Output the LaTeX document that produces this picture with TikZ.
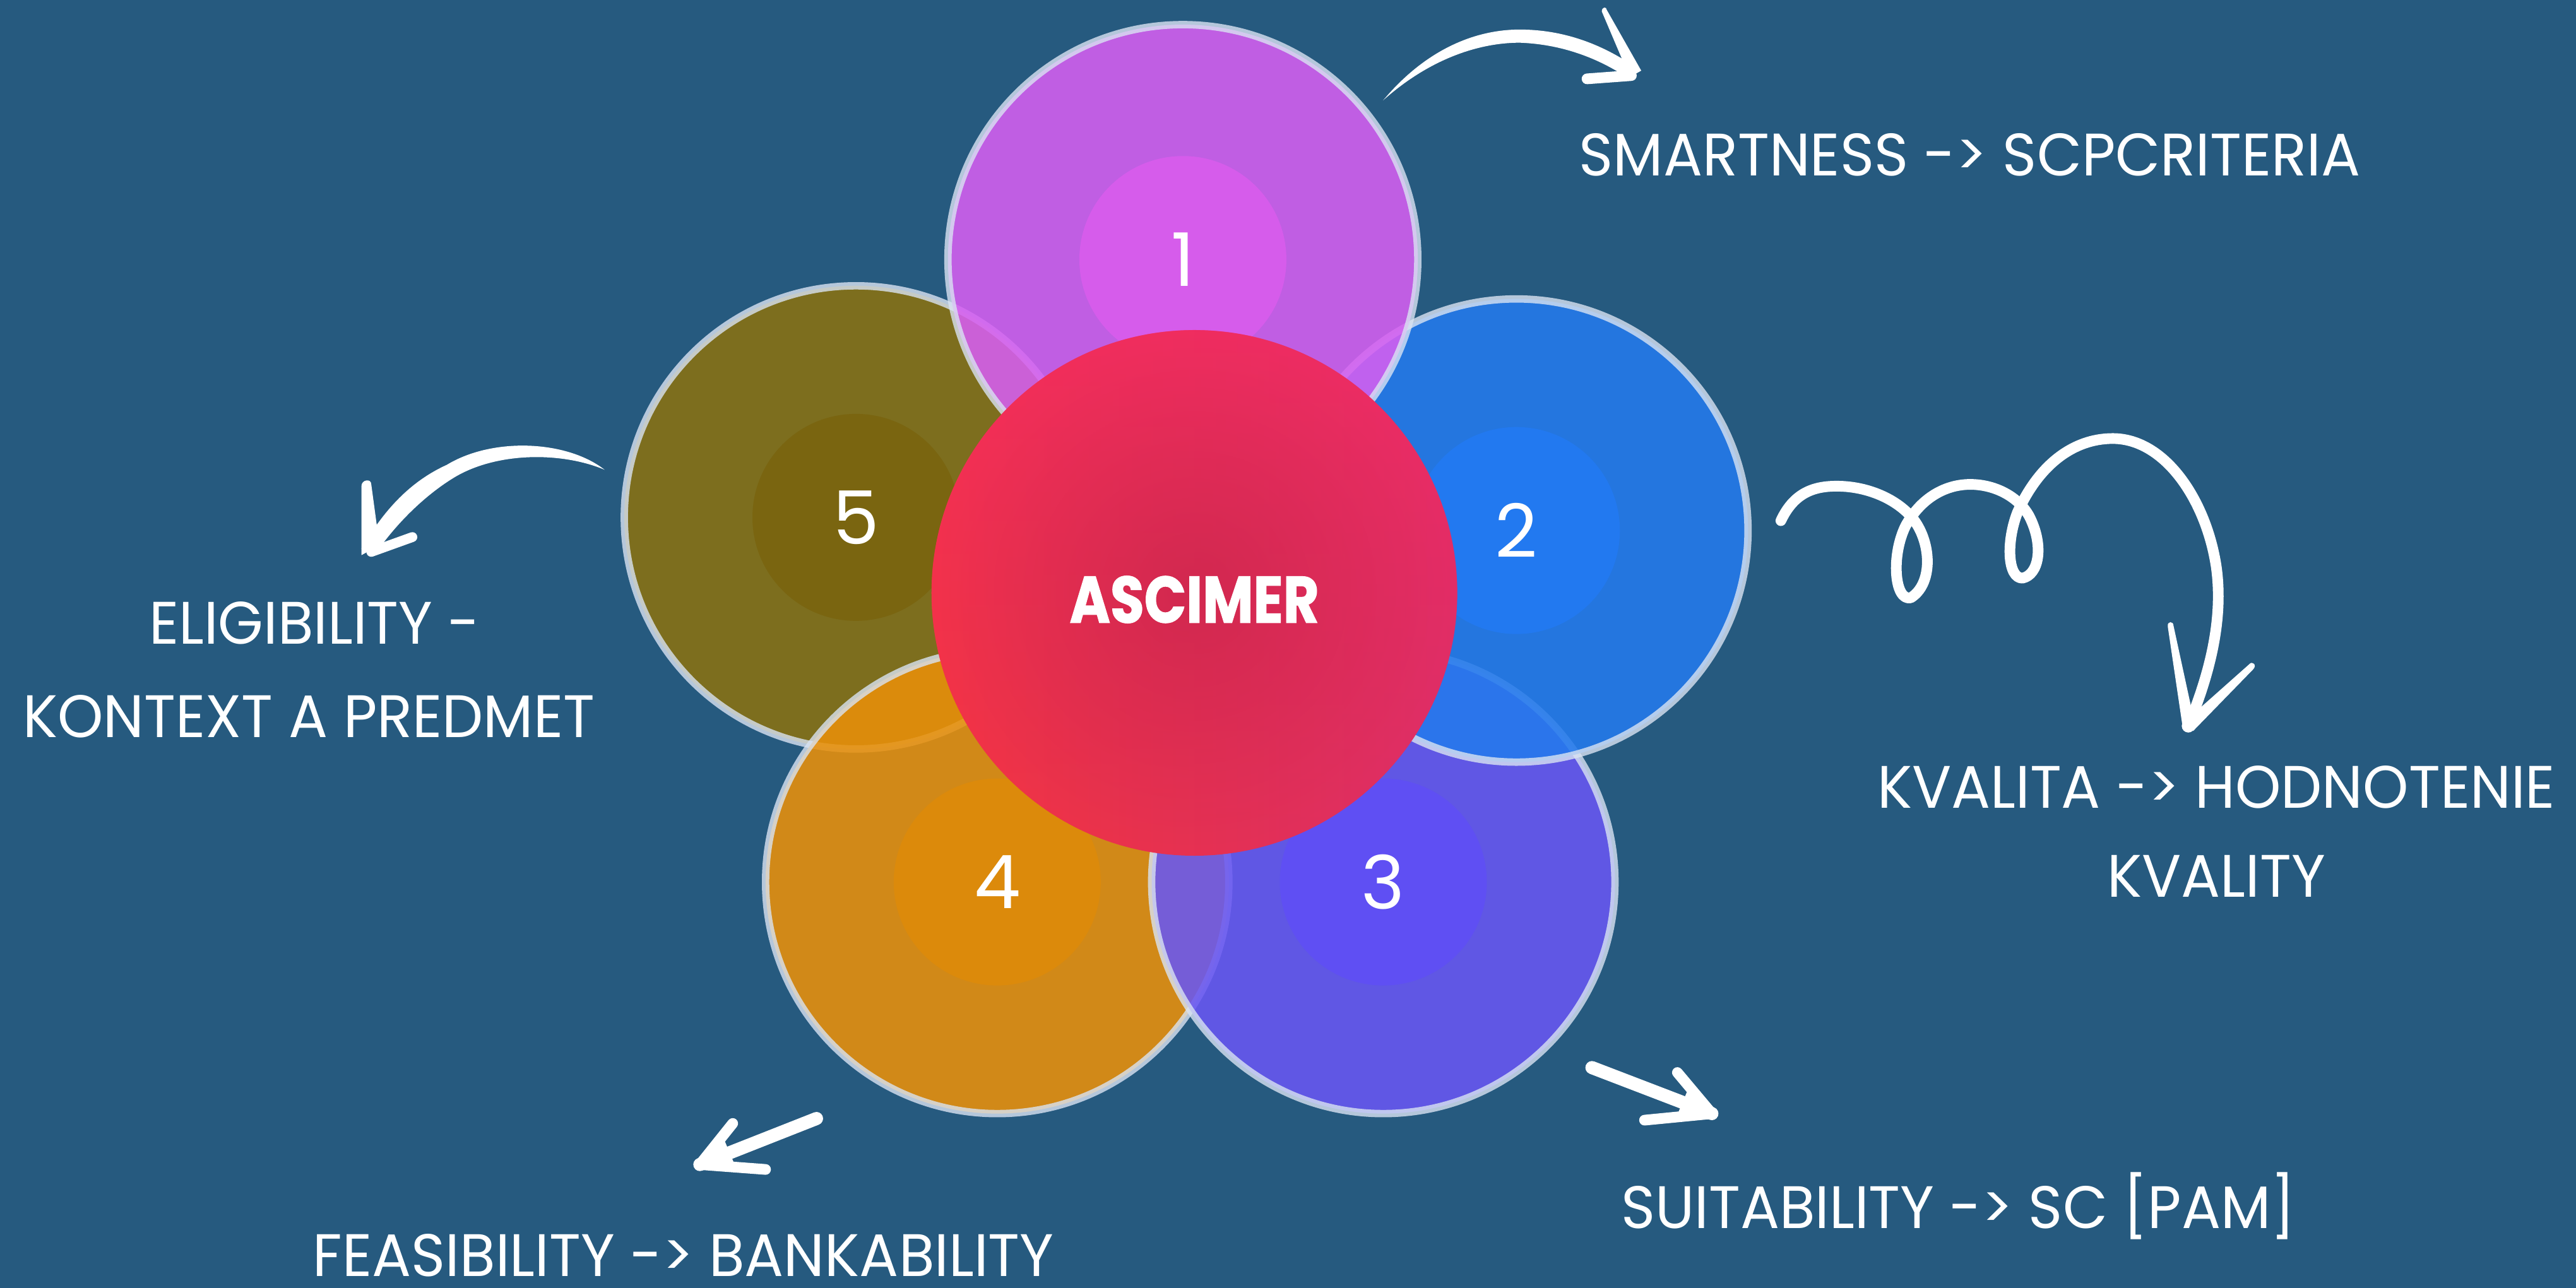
\documentclass[tikz,border=0pt]{standalone}
\usepackage{fontspec}
\usetikzlibrary{fadings}
\newfontfamily\lblfont[FakeStretch=0.97]{Poppins}
\newfontfamily\numfont{Poppins}
\newfontfamily\titfont[FakeStretch=0.84, FakeBold=1.2]{Poppins}
\definecolor{bg}{HTML}{265A7F}
\definecolor{rim}{HTML}{D9E3F2}
\definecolor{o1}{HTML}{D65FF1}\definecolor{i1}{HTML}{D65CEB}
\definecolor{o2}{HTML}{247AED}\definecolor{i2}{HTML}{2279F0}
\definecolor{o3}{HTML}{6957F2}\definecolor{i3}{HTML}{5F4FF3}
\definecolor{o4}{HTML}{E9900A}\definecolor{i4}{HTML}{DC8A0B}
\definecolor{o5}{HTML}{8A7111}\definecolor{i5}{HTML}{7A6510}
\definecolor{redL}{HTML}{F3363E}
\definecolor{redR}{HTML}{DA2F68}
\definecolor{redtop}{HTML}{F42C66}
\definecolor{redcore}{HTML}{C4244A}
\tikzfading[name=softc, inner color=transparent!35, outer color=transparent!100]
\tikzfading[name=topfade, top color=transparent!30, bottom color=transparent!100]
\begin{document}
\begin{tikzpicture}[x=1pt,y=-1pt,
  outer/.style={circle, inner sep=0pt, minimum size=282pt, draw=rim, line width=4.5pt,
                fill opacity=0.88, draw opacity=0.8},
  inner/.style={circle, inner sep=0pt, minimum size=126pt, text=white,
                font=\numfont\fontsize{45}{50}\selectfont},
  lbl/.style={text=white, inner sep=0pt, font=\lblfont\fontsize{36.5}{40}\selectfont},
  stroke/.style={draw=white, line cap=round, line join=round},
  brush/.style={fill=white}]
\fill[bg] (0,0) rectangle (1568,784);
\useasboundingbox (0,0) rectangle (1568,784);

% petals
\node[outer, fill=o5] (c5) at (521,315) {};
\node[inner, fill=i5] (n5) at (c5.center) {5};
\node[outer, fill=o4] (c4) at (607,537) {};
\node[inner, fill=i4] (n4) at (c4.center) {4};
\node[outer, fill=o3] (c3) at (842,537) {};
\node[inner, fill=i3] (n3) at (c3.center) {3};
\node[outer, fill=o2] (c2) at (923,323) {};
\node[inner, fill=i2] (n2) at (c2.center) {2};
\node[outer, fill=o1, minimum size=286pt] (c1) at (720,158) {};
\node[inner, fill=i1] (n1) at (c1.center) {1};

% centre
\node[circle, inner sep=0pt, minimum size=320pt, left color=redL, right color=redR] (core) at (727,361) {};
\fill[redtop, path fading=topfade] (core.center) circle (160pt);
\fill[redcore, path fading=softc] (core.center) circle (160pt);
\node[text=white, inner sep=0pt, font=\titfont\bfseries\fontsize{40}{44}\selectfont] (title) at (727,365) {ASCIMER};

% labels
\node[lbl, anchor=base west] (l1) at (961,107) {SMARTNESS -> SCPCRITERIA};
\node[lbl, anchor=base] (l2a) at (1349,492) {KVALITA -> HODNOTENIE};
\node[lbl, anchor=base] (l2b) at (1349,546) {KVALITY};
\node[lbl, anchor=base] (l3) at (1192,748) {SUITABILITY -> SC [PAM]};
\node[lbl, anchor=base] (l4) at (416,777) {FEASIBILITY -> BANKABILITY};
\node[lbl, anchor=base] (l5a) at (191.5,392) {ELIGIBILITY -};
\node[lbl, anchor=base] (l5b) at (188,449) {KONTEXT A PREDMET};

% arrow 1 (top)
\fill[brush] (842,61) .. controls (868,30) and (898,18) .. (925,18) .. controls (956,18) and (980,30) .. (997,42)
  -- (993,49) .. controls (976,37) and (953,27) .. (925,26) .. controls (900,26) and (870,36) .. (842,61) -- cycle;
\fill[brush] (992,47) -- (975,7) .. controls (975,4) and (978,4) .. (978,6) -- (999,43) -- cycle;
\draw[stroke, line width=6.5pt] (993,46) -- (966,48);

% arrow 5 (left)
\fill[brush] (368,286) .. controls (345,268) and (300,266) .. (272,283) .. controls (250,293) and (234,310) .. (220,334)
  -- (228,338) .. controls (240,320) and (258,302) .. (276,291) .. controls (302,275) and (342,275) .. (368,286) -- cycle;
\fill[brush] (220,338) -- (220,296) .. controls (220,292) and (226,291) .. (226,295) -- (231,332) -- cycle;
\draw[stroke, line width=6pt] (226,336) -- (251,327);

% arrow 4 (bottom left)
\draw[stroke, line width=8pt] (497,681) -- (426,709);
\draw[stroke, line width=6.5pt] (426,709) -- (446,684);
\draw[stroke, line width=6.5pt] (426,709) -- (466,712);
\fill[brush] (425,709) -- (440,692) -- (448,711) -- cycle;

% arrow 3 (bottom right)
\draw[stroke, line width=8pt] (969,650) -- (1042,678);
\draw[stroke, line width=6.5pt] (1042,678) -- (1021,653);
\draw[stroke, line width=6.5pt] (1042,678) -- (1001,682);
\fill[brush] (1043,678) -- (1028,662) -- (1020,681) -- cycle;

% arrow 2 (squiggle)
\draw[stroke, line width=6.5pt] (1084,317) .. controls (1092,300) and (1104,296) .. (1118,296)
  .. controls (1138,296) and (1157,305) .. (1166,318)
  .. controls (1176,333) and (1176,356) .. (1163,364)
  .. controls (1153,366) and (1151,338) .. (1160,320)
  .. controls (1170,302) and (1186,294) .. (1202,295)
  .. controls (1218,296) and (1231,305) .. (1236,316)
  .. controls (1244,333) and (1241,350) .. (1231,352)
  .. controls (1222,352) and (1221,330) .. (1228,312)
  .. controls (1241,283) and (1262,267) .. (1286,267)
  .. controls (1318,267) and (1343,305) .. (1349,345)
  .. controls (1354,380) and (1343,415) .. (1332,442);
\fill[brush] (1328.6,443) -- (1319.5,381.5) .. controls (1319,378) and (1323,378) .. (1323,381) -- (1336,441) -- cycle;
\fill[brush] (1329.6,439.5) -- (1369,404.5) .. controls (1371,402) and (1374,405) .. (1371.5,407.5) -- (1335,445) -- cycle;
\fill[brush] (1332,442) circle (4pt);
\end{tikzpicture}
\end{document}
